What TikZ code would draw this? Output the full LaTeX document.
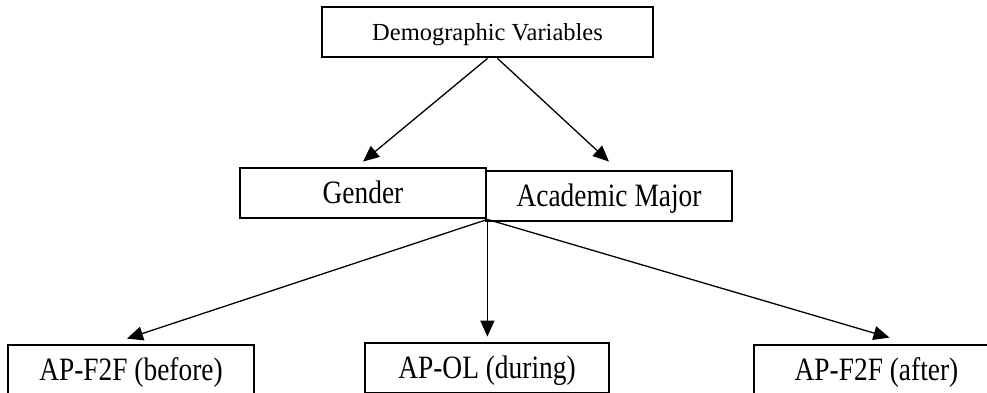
\documentclass[tikz,border=0pt]{standalone}
\usepackage{fontspec}
\usepackage{graphicx}
\setmainfont{Liberation Serif}
\usetikzlibrary{arrows.meta}
\tikzset{
  box/.style={draw, line width=2.8pt, inner sep=0pt, minimum height=50pt,
    text height=21.6pt, text depth=0pt, font=\fontsize{27.4}{30}\selectfont},
  topbox/.style={box, text height=16.2pt, font=\fontsize{24.5}{27}\selectfont},
  arr/.style={line width=1.3pt, -{Triangle[length=16pt,width=14pt]}}
}
\newcommand{\tall}[1]{\scalebox{1}[1.19]{#1}}
\begin{document}
\begin{tikzpicture}[x=1pt,y=-1pt]
\useasboundingbox (0,0) rectangle (987,392);
\node[topbox, minimum width=331pt] (top) at (487.5,32) {Demographic Variables};
\node[box, minimum width=246pt] (gen) at (363,193) {\tall{Gender}};
\node[box, minimum width=246pt] (maj) at (609,196) {\tall{Academic Major}};
\node[box, minimum width=246pt] (bef) at (131,370) {\tall{AP-F2F (before)}};
\node[box, minimum width=244pt] (dur) at (487,368) {\tall{AP-OL (during)}};
\node[box, minimum width=245pt] (aft) at (876.5,370) {\tall{AP-F2F (after)}};
\coordinate (j) at (gen.south east);
\coordinate (durtip) at ([yshift=5pt]dur.north);
\draw[arr] (top.south) -- ([yshift=5pt]gen.north);
\draw[arr] ([xshift=10pt]top.south) -- ([yshift=8pt]maj.north);
\draw[arr] (j) -- ([xshift=-4pt,yshift=5pt]bef.north);
\draw[arr] (j) -- (j |- durtip);
\draw[arr] (j) -- ([xshift=13pt,yshift=6pt]aft.north);
\end{tikzpicture}
\end{document}
